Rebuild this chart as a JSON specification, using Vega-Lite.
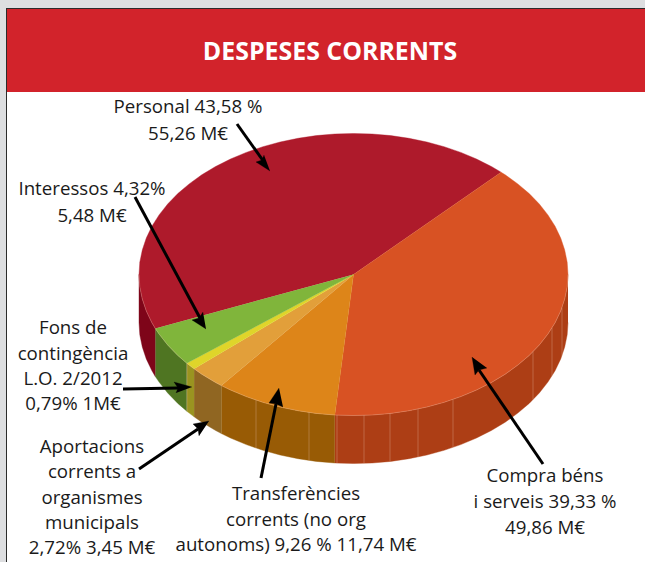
{
"$schema":"https://vega.github.io/schema/vega-lite/v6.json",
"width":645,"height":562,"autosize":{"type":"fit","contains":"padding"},"padding":0,
"background":"#DDDEE0","view":{"stroke":null},
"datasets":{
"panels":[
{"part":"frame","x":6,"x2":645,"y":8,"y2":562},
{"part":"panel","x":7,"x2":645,"y":9,"y2":562},
{"part":"band","x":7,"x2":645,"y":9,"y2":92}
],
"shapes":[
{"part":"Compra side","x":568,"y":274.5},{"part":"Compra side","x":567.2,"y":286.8},{"part":"Compra side","x":564.7,"y":299},{"part":"Compra side","x":560.7,"y":311},{"part":"Compra side","x":555.1,"y":322.7},{"part":"Compra side","x":547.9,"y":334.1},{"part":"Compra side","x":539.3,"y":345},{"part":"Compra side","x":529.2,"y":355.4},{"part":"Compra side","x":517.8,"y":365.1},{"part":"Compra side","x":505.2,"y":374.2},{"part":"Compra side","x":491.4,"y":382.5},{"part":"Compra side","x":476.5,"y":390},{"part":"Compra side","x":460.8,"y":396.6},{"part":"Compra side","x":444.1,"y":402.3},{"part":"Compra side","x":426.9,"y":407},{"part":"Compra side","x":409,"y":410.7},{"part":"Compra side","x":390.7,"y":413.4},{"part":"Compra side","x":372.2,"y":415},{"part":"Compra side","x":353.5,"y":415.5},{"part":"Compra side","x":334.8,"y":415},
{"part":"Compra side","x":334.8,"y":463},{"part":"Compra side","x":353.5,"y":463.5},{"part":"Compra side","x":372.2,"y":463},{"part":"Compra side","x":390.7,"y":461.4},{"part":"Compra side","x":409,"y":458.7},{"part":"Compra side","x":426.9,"y":455},{"part":"Compra side","x":444.1,"y":450.3},{"part":"Compra side","x":460.8,"y":444.6},{"part":"Compra side","x":476.5,"y":438},{"part":"Compra side","x":491.4,"y":430.5},{"part":"Compra side","x":505.2,"y":422.2},{"part":"Compra side","x":517.8,"y":413.1},{"part":"Compra side","x":529.2,"y":403.4},{"part":"Compra side","x":539.3,"y":393},{"part":"Compra side","x":547.9,"y":382.1},{"part":"Compra side","x":555.1,"y":370.7},{"part":"Compra side","x":560.7,"y":359},{"part":"Compra side","x":564.7,"y":347},{"part":"Compra side","x":567.2,"y":334.8},{"part":"Compra side","x":568,"y":322.5},

{"part":"Transfer side","x":334.8,"y":415},{"part":"Transfer side","x":316.3,"y":413.4},{"part":"Transfer side","x":298,"y":410.7},{"part":"Transfer side","x":280.1,"y":407},{"part":"Transfer side","x":262.9,"y":402.3},{"part":"Transfer side","x":246.3,"y":396.6},{"part":"Transfer side","x":230.5,"y":390},{"part":"Transfer side","x":221.4,"y":385.6},
{"part":"Transfer side","x":221.4,"y":433.6},{"part":"Transfer side","x":230.5,"y":438},{"part":"Transfer side","x":246.3,"y":444.6},{"part":"Transfer side","x":262.9,"y":450.3},{"part":"Transfer side","x":280.1,"y":455},{"part":"Transfer side","x":298,"y":458.7},{"part":"Transfer side","x":316.3,"y":461.4},{"part":"Transfer side","x":334.8,"y":463},

{"part":"Aport side","x":221.4,"y":385.6},{"part":"Aport side","x":215.6,"y":382.5},{"part":"Aport side","x":201.8,"y":374.2},{"part":"Aport side","x":194.1,"y":368.8},{"part":"Aport side","x":194.1,"y":416.8},{"part":"Aport side","x":201.8,"y":422.2},{"part":"Aport side","x":215.6,"y":430.5},{"part":"Aport side","x":221.4,"y":433.6},

{"part":"Fons side","x":194.1,"y":368.8},{"part":"Fons side","x":189.2,"y":365.1},{"part":"Fons side","x":186.8,"y":363.2},{"part":"Fons side","x":186.8,"y":411.2},{"part":"Fons side","x":189.2,"y":413.1},{"part":"Fons side","x":194.1,"y":416.8},

{"part":"Interessos side","x":186.8,"y":363.2},{"part":"Interessos side","x":177.8,"y":355.4},{"part":"Interessos side","x":167.7,"y":345},{"part":"Interessos side","x":159.1,"y":334.1},{"part":"Interessos side","x":155.3,"y":328.5},{"part":"Interessos side","x":155.3,"y":376.5},{"part":"Interessos side","x":159.1,"y":382.1},{"part":"Interessos side","x":167.7,"y":393},{"part":"Interessos side","x":177.8,"y":403.4},{"part":"Interessos side","x":186.8,"y":411.2},

{"part":"Personal side","x":155.3,"y":328.5},{"part":"Personal side","x":151.9,"y":322.7},{"part":"Personal side","x":146.3,"y":311},{"part":"Personal side","x":142.3,"y":299},{"part":"Personal side","x":139.8,"y":286.8},{"part":"Personal side","x":139,"y":274.5},{"part":"Personal side","x":139,"y":322.5},{"part":"Personal side","x":139.8,"y":334.8},{"part":"Personal side","x":142.3,"y":347},{"part":"Personal side","x":146.3,"y":359},{"part":"Personal side","x":151.9,"y":370.7},{"part":"Personal side","x":155.3,"y":376.5},

{"part":"Personal","x":353.5,"y":274.5},{"part":"Personal","x":155.3,"y":328.5},{"part":"Personal","x":151.9,"y":322.7},{"part":"Personal","x":146.3,"y":311},{"part":"Personal","x":142.3,"y":299},{"part":"Personal","x":139.8,"y":286.8},{"part":"Personal","x":139,"y":274.5},{"part":"Personal","x":139.8,"y":262.2},{"part":"Personal","x":142.3,"y":250},{"part":"Personal","x":146.3,"y":238},{"part":"Personal","x":151.9,"y":226.3},{"part":"Personal","x":159.1,"y":214.9},{"part":"Personal","x":167.7,"y":204},{"part":"Personal","x":177.8,"y":193.6},{"part":"Personal","x":189.2,"y":183.9},{"part":"Personal","x":201.8,"y":174.8},{"part":"Personal","x":215.6,"y":166.5},{"part":"Personal","x":230.5,"y":159},{"part":"Personal","x":246.3,"y":152.4},{"part":"Personal","x":262.9,"y":146.7},{"part":"Personal","x":280.1,"y":142},{"part":"Personal","x":298,"y":138.3},{"part":"Personal","x":316.3,"y":135.6},{"part":"Personal","x":334.8,"y":134},{"part":"Personal","x":353.5,"y":133.5},{"part":"Personal","x":372.2,"y":134},{"part":"Personal","x":390.7,"y":135.6},{"part":"Personal","x":409,"y":138.3},{"part":"Personal","x":426.9,"y":142},{"part":"Personal","x":444.1,"y":146.7},{"part":"Personal","x":460.8,"y":152.4},{"part":"Personal","x":476.5,"y":159},{"part":"Personal","x":491.4,"y":166.5},{"part":"Personal","x":501.1,"y":172.2},

{"part":"Compra","x":353.5,"y":274.5},{"part":"Compra","x":501.1,"y":172.2},{"part":"Compra","x":505.2,"y":174.8},{"part":"Compra","x":517.8,"y":183.9},{"part":"Compra","x":529.2,"y":193.6},{"part":"Compra","x":539.3,"y":204},{"part":"Compra","x":547.9,"y":214.9},{"part":"Compra","x":555.1,"y":226.3},{"part":"Compra","x":560.7,"y":238},{"part":"Compra","x":564.7,"y":250},{"part":"Compra","x":567.2,"y":262.2},{"part":"Compra","x":568,"y":274.5},{"part":"Compra","x":567.2,"y":286.8},{"part":"Compra","x":564.7,"y":299},{"part":"Compra","x":560.7,"y":311},{"part":"Compra","x":555.1,"y":322.7},{"part":"Compra","x":547.9,"y":334.1},{"part":"Compra","x":539.3,"y":345},{"part":"Compra","x":529.2,"y":355.4},{"part":"Compra","x":517.8,"y":365.1},{"part":"Compra","x":505.2,"y":374.2},{"part":"Compra","x":491.4,"y":382.5},{"part":"Compra","x":476.5,"y":390},{"part":"Compra","x":460.8,"y":396.6},{"part":"Compra","x":444.1,"y":402.3},{"part":"Compra","x":426.9,"y":407},{"part":"Compra","x":409,"y":410.7},{"part":"Compra","x":390.7,"y":413.4},{"part":"Compra","x":372.2,"y":415},{"part":"Compra","x":353.5,"y":415.5},{"part":"Compra","x":334.8,"y":415},

{"part":"Transfer","x":353.5,"y":274.5},{"part":"Transfer","x":334.8,"y":415},{"part":"Transfer","x":316.3,"y":413.4},{"part":"Transfer","x":298,"y":410.7},{"part":"Transfer","x":280.1,"y":407},{"part":"Transfer","x":262.9,"y":402.3},{"part":"Transfer","x":246.3,"y":396.6},{"part":"Transfer","x":230.5,"y":390},{"part":"Transfer","x":221.4,"y":385.6},

{"part":"Aport","x":353.5,"y":274.5},{"part":"Aport","x":221.4,"y":385.6},{"part":"Aport","x":215.6,"y":382.5},{"part":"Aport","x":201.8,"y":374.2},{"part":"Aport","x":194.1,"y":368.8},

{"part":"Fons","x":353.5,"y":274.5},{"part":"Fons","x":194.1,"y":368.8},{"part":"Fons","x":189.2,"y":365.1},{"part":"Fons","x":186.8,"y":363.2},

{"part":"Interessos","x":353.5,"y":274.5},{"part":"Interessos","x":186.8,"y":363.2},{"part":"Interessos","x":177.8,"y":355.4},{"part":"Interessos","x":167.7,"y":345},{"part":"Interessos","x":159.1,"y":334.1},{"part":"Interessos","x":155.3,"y":328.5}
],
"rim":[
{"x":568,"y":274.5},{"x":567.2,"y":286.8},{"x":564.7,"y":299},{"x":560.7,"y":311},{"x":555.1,"y":322.7},{"x":547.9,"y":334.1},{"x":539.3,"y":345},{"x":529.2,"y":355.4},{"x":517.8,"y":365.1},{"x":505.2,"y":374.2},{"x":491.4,"y":382.5},{"x":476.5,"y":390},{"x":460.8,"y":396.6},{"x":444.1,"y":402.3},{"x":426.9,"y":407},{"x":409,"y":410.7},{"x":390.7,"y":413.4},{"x":372.2,"y":415},{"x":353.5,"y":415.5},{"x":334.8,"y":415},{"x":316.3,"y":413.4},{"x":298,"y":410.7},{"x":280.1,"y":407},{"x":262.9,"y":402.3},{"x":246.3,"y":396.6},{"x":230.5,"y":390},{"x":221.4,"y":385.6},{"x":215.6,"y":382.5},{"x":201.8,"y":374.2},{"x":194.1,"y":368.8},{"x":189.2,"y":365.1},{"x":186.8,"y":363.2},{"x":177.8,"y":355.4},{"x":167.7,"y":345},{"x":159.1,"y":334.1},{"x":155.3,"y":328.5},{"x":151.9,"y":322.7},{"x":146.3,"y":311},{"x":142.3,"y":299},{"x":139.8,"y":286.8},{"x":139,"y":274.5}
],
"seams":[
{"x":364,"y":415.2,"y2":463},{"x":390,"y":413.4,"y2":461.4},{"x":418,"y":409,"y2":457},{"x":453,"y":399.4,"y2":447.4},{"x":533,"y":351.6,"y2":399.6},{"x":552,"y":328,"y2":376},{"x":562,"y":307.6,"y2":355.6},{"x":337,"y":415,"y2":463},{"x":256,"y":400.1,"y2":448.1},{"x":309,"y":412.4,"y2":460.4},{"x":187,"y":363,"y2":411}
],
"shafts":[
{"x":237,"y":124,"x2":264,"y2":162},
{"x":135,"y":197,"x2":200,"y2":318},
{"x":123,"y":389,"x2":178,"y2":388},
{"x":139,"y":469,"x2":198,"y2":429},
{"x":261,"y":478,"x2":276,"y2":404},
{"x":543,"y":464,"x2":479,"y2":370}
],
"heads":[
{"part":"arrow 1","x":270,"y":171},{"part":"arrow 1","x":256,"y":162},{"part":"arrow 1","x":262,"y":160},{"part":"arrow 1","x":264,"y":155},
{"part":"arrow 2","x":206,"y":329},{"part":"arrow 2","x":192,"y":320},{"part":"arrow 2","x":199,"y":318},{"part":"arrow 2","x":203,"y":312},
{"part":"arrow 3","x":192,"y":387},{"part":"arrow 3","x":174,"y":382},{"part":"arrow 3","x":178,"y":388},{"part":"arrow 3","x":176,"y":393},
{"part":"arrow 4","x":209,"y":421},{"part":"arrow 4","x":193,"y":424},{"part":"arrow 4","x":198,"y":429},{"part":"arrow 4","x":199,"y":436},
{"part":"arrow 5","x":279,"y":388},{"part":"arrow 5","x":269,"y":403},{"part":"arrow 5","x":276,"y":404},{"part":"arrow 5","x":283,"y":407},
{"part":"arrow 6","x":472,"y":357},{"part":"arrow 6","x":475,"y":375},{"part":"arrow 6","x":479,"y":370},{"part":"arrow 6","x":487,"y":368}
],
"labels":[
{"t":"Personal 43,58 %","x":188,"y":106},{"t":"55,26 M€","x":188,"y":133},
{"t":"Interessos 4,32%","x":92,"y":188},{"t":"5,48 M€","x":92,"y":215},
{"t":"Fons de","x":73,"y":327},{"t":"contingència","x":73,"y":353},{"t":"L.O. 2/2012","x":73,"y":378},{"t":"0,79% 1M€","x":73,"y":403},
{"t":"Aportacions","x":92,"y":446},{"t":"corrents a","x":92,"y":471},{"t":"organismes","x":92,"y":497},{"t":"municipals","x":92,"y":522},{"t":"2,72% 3,45 M€","x":92,"y":547},
{"t":"Transferències","x":296,"y":493},{"t":"corrents (no org","x":296,"y":519},{"t":"autonoms) 9,26 % 11,74 M€","x":296,"y":544},
{"t":"Compra béns","x":545,"y":475},{"t":"i serveis 39,33 %","x":545,"y":501},{"t":"49,86 M€","x":545,"y":527}
],
"title":[{"t":"DESPESES CORRENTS","x":330,"y":53}]
},
"encoding":{
"x":{"field":"x","type":"quantitative","axis":null,"scale":{"domain":[0,645],"nice":false,"zero":false}},
"y":{"field":"y","type":"quantitative","axis":null,"scale":{"domain":[562,0],"nice":false,"zero":false}}
},
"layer":[
{"data":{"name":"panels"},"mark":{"type":"rect"},
"encoding":{"x2":{"field":"x2"},"y2":{"field":"y2"},
"color":{"field":"part","type":"nominal","legend":null,"scale":{"domain":["frame","panel","band"],"range":["#2B2B2B","#FFFFFF","#D2232B"]}}}},
{"data":{"name":"shapes"},"transform":[{"window":[{"op":"row_number","as":"i"}]}],"mark":{"type":"line","filled":true,"strokeWidth":0.4,"strokeJoin":"round"},
"encoding":{"order":{"field":"i","type":"quantitative"},
"fill":{"field":"part","type":"nominal","legend":null,"scale":{"domain":["Personal","Compra","Transfer","Aport","Fons","Interessos","Personal side","Compra side","Transfer side","Aport side","Fons side","Interessos side"],"range":["#AE1A2B","#D85223","#DD8519","#E29F3A","#DFD52A","#80B53B","#7E0519","#AD3E15","#985B05","#906622","#9A9420","#4F7522"]}},
"stroke":{"field":"part","type":"nominal","legend":null,"scale":{"domain":["Personal","Compra","Transfer","Aport","Fons","Interessos","Personal side","Compra side","Transfer side","Aport side","Fons side","Interessos side"],"range":["#AE1A2B","#D85223","#DD8519","#E29F3A","#DFD52A","#80B53B","#7E0519","#AD3E15","#985B05","#906622","#9A9420","#4F7522"]}}}},
{"data":{"name":"seams"},"mark":{"type":"rule","color":"#E3B49A","strokeWidth":0.7,"opacity":0.5},"encoding":{"y2":{"field":"y2"}}},
{"data":{"name":"rim"},"transform":[{"window":[{"op":"row_number","as":"i"}]}],"mark":{"type":"line","color":"#F0C8B0","strokeWidth":0.6,"opacity":0.45},"encoding":{"order":{"field":"i","type":"quantitative"}}},
{"data":{"name":"shafts"},"mark":{"type":"rule","color":"#000000","strokeWidth":3},"encoding":{"x2":{"field":"x2"},"y2":{"field":"y2"}}},
{"data":{"name":"heads"},"transform":[{"window":[{"op":"row_number","as":"i"}]}],"mark":{"type":"line","filled":true,"fill":"#000000","stroke":"#000000","strokeWidth":0.3},"encoding":{"order":{"field":"i","type":"quantitative"},"detail":{"field":"part"}}},
{"data":{"name":"labels"},"mark":{"type":"text","font":"Open Sans","fontSize":18.7,"dy":1,"color":"#1A1A1A","align":"center","baseline":"middle"},"encoding":{"text":{"field":"t"}}},
{"data":{"name":"title"},"mark":{"type":"text","font":"Open Sans","fontSize":24.9,"fontWeight":"bold","color":"#FFFFFF","align":"center","baseline":"middle"},"encoding":{"text":{"field":"t"}}}
]
}
